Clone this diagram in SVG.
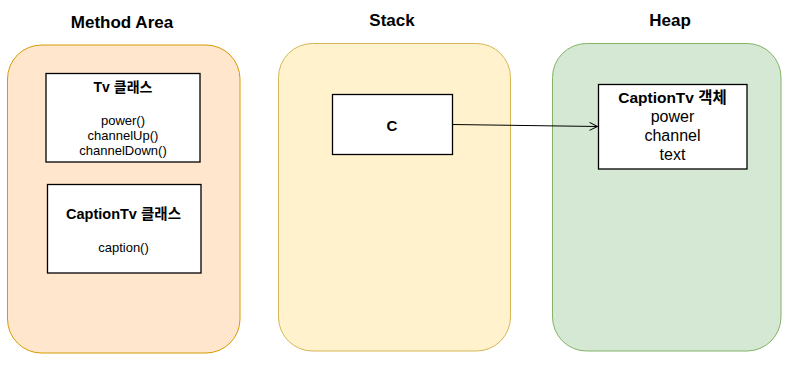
<svg xmlns="http://www.w3.org/2000/svg" width="793" height="374" viewBox="0 0 793 374">
<style>
text{font-family:"Liberation Sans","Noto Sans CJK KR",Arial,sans-serif;text-anchor:middle;fill:#000}
.title{font-size:17px;font-weight:bold}
.b{font-weight:bold}
.box{fill:#fff;stroke:#000;stroke-width:1.3}
</style>
<defs>
<marker id="arr" markerWidth="10" markerHeight="10" refX="9" refY="5" orient="auto" markerUnits="userSpaceOnUse">
<path d="M1,1 L9,5 L1,9" fill="none" stroke="#000" stroke-width="1"/>
</marker>
</defs>
<g id="method-area">
<rect x="7.5" y="45" width="232.5" height="308" rx="34" fill="#ffe6cc" stroke="#d79b00"/>
<text class="title" x="122" y="28">Method Area</text>
</g>
<g id="stack">
<rect x="278.5" y="43.5" width="232" height="307.5" rx="34" fill="#fff2cc" stroke="#d6b656"/>
<text class="title" x="392" y="26">Stack</text>
</g>
<g id="heap">
<rect x="552.5" y="43.5" width="228.5" height="307.5" rx="34" fill="#d5e8d4" stroke="#82b366"/>
<text class="title" x="670" y="26">Heap</text>
</g>
<g id="tv-class">
<rect class="box" x="46" y="73.5" width="154" height="88.5"/>
<text class="b" x="123" y="92" font-size="14">Tv 클래스</text>
<text x="123" y="125" font-size="13">power()</text>
<text x="123" y="140" font-size="13">channelUp()</text>
<text x="123" y="155" font-size="13">channelDown()</text>
</g>
<g id="captiontv-class">
<rect class="box" x="47.5" y="184.5" width="153.5" height="88.5"/>
<text class="b" x="123.5" y="219" font-size="14.5">CaptionTv 클래스</text>
<text x="123.5" y="252" font-size="13">caption()</text>
</g>
<g id="c-var">
<rect class="box" x="332.5" y="94.5" width="120" height="60"/>
<text class="b" x="392" y="131" font-size="15">C</text>
</g>
<g id="captiontv-object">
<rect class="box" x="598.5" y="84.5" width="148.5" height="84.5"/>
<text class="b" x="672.5" y="103" font-size="15.5">CaptionTv 객체</text>
<text x="672.5" y="122" font-size="16">power</text>
<text x="672.5" y="141" font-size="16">channel</text>
<text x="672.5" y="160" font-size="16">text</text>
</g>
<g id="connectors">
<line x1="452.5" y1="124.5" x2="597.5" y2="126.5" stroke="#000" stroke-width="1" marker-end="url(#arr)"/>
</g>
</svg>
